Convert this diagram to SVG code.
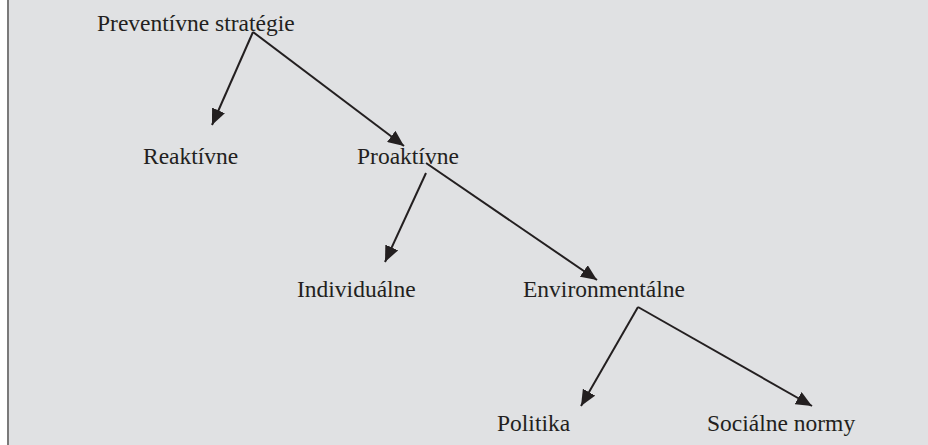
<svg xmlns="http://www.w3.org/2000/svg" width="928" height="445" viewBox="0 0 928 445">
<style>
.t{font-family:"Liberation Serif","Times New Roman",serif;font-size:23.5px;fill:#231f20}
.c{stroke:#231f20;stroke-width:2;fill:none;marker-end:url(#ah)}
</style>
<defs>
<marker id="ah" markerUnits="userSpaceOnUse" markerWidth="18" markerHeight="14" refX="16" refY="7" orient="auto">
<path d="M0,0 L16,7 L0,14 z" fill="#231f20"/>
</marker>
</defs>
<rect x="0" y="0" width="928" height="445" fill="#ffffff"/>
<rect x="8" y="0" width="920" height="445" fill="#e0e1e3"/>
<line x1="8" y1="0" x2="8" y2="445" stroke="#7a7a7a" stroke-width="2"/>
<g id="connectors">
<line class="c" x1="253" y1="32" x2="212" y2="125"/>
<line class="c" x1="253" y1="32" x2="404" y2="146"/>
<line class="c" x1="426" y1="173" x2="385" y2="262"/>
<line class="c" x1="426" y1="163" x2="597" y2="280"/>
<line class="c" x1="638" y1="307" x2="581" y2="406"/>
<line class="c" x1="638" y1="307" x2="812" y2="406"/>
</g>
<g id="n-preventivne"><text class="t" x="97" y="31">Preventívne stratégie</text></g>
<g id="n-reaktivne"><text class="t" x="143" y="164">Reaktívne</text></g>
<g id="n-proaktivne"><text class="t" x="357" y="164">Proaktívne</text></g>
<g id="n-individualne"><text class="t" x="297" y="297">Individuálne</text></g>
<g id="n-environmentalne"><text class="t" x="523" y="297">Environmentálne</text></g>
<g id="n-politika"><text class="t" x="497" y="431">Politika</text></g>
<g id="n-socialne"><text class="t" x="707" y="431">Sociálne normy</text></g>
</svg>
